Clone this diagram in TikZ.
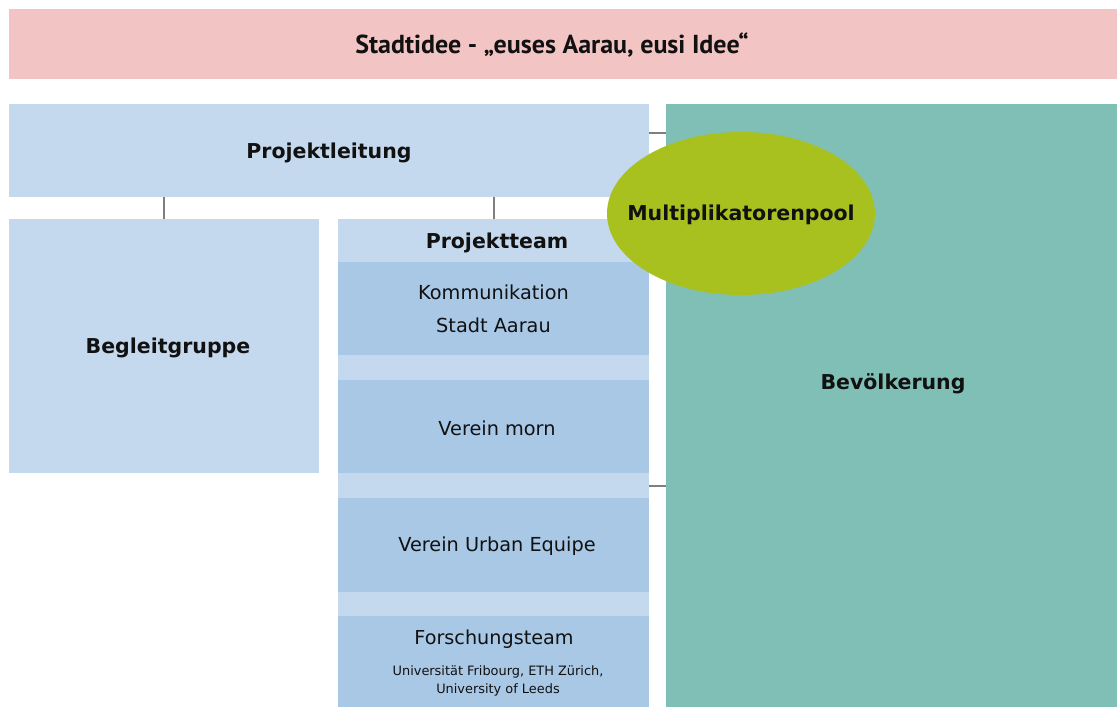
\documentclass[tikz,border=0pt]{standalone}
\usepackage{fontspec}
\setmainfont{DejaVu Sans}
\newfontfamily\titlefont{PT Sans}
\usetikzlibrary{shapes.geometric}
\definecolor{bannerc}{HTML}{F2C4C4}
\definecolor{lightblue}{HTML}{C5D9EE}
\definecolor{midblue}{HTML}{A8C8E6}
\definecolor{tealc}{HTML}{80BFB5}
\definecolor{greenc}{HTML}{A9C11F}
\definecolor{linec}{HTML}{7F7F7F}
\definecolor{textc}{HTML}{111111}
\tikzset{
  box/.style={rectangle, inner sep=0pt, anchor=north west, text=textc},
  lbox/.style={box, fill=lightblue},
  mbox/.style={box, fill=midblue},
  conn/.style={draw=linec, line width=2.2pt},
  bold/.style={font=\fontsize{20.5}{24}\selectfont\bfseries, text=textc},
  reg/.style={font=\fontsize{19.3}{33}\selectfont, text=textc, align=center},
}
\begin{document}
\begin{tikzpicture}[x=1pt,y=-1pt]
\useasboundingbox (0,0) rectangle (1117,707);
\fill[white] (0,0) rectangle (1117,707);
% banner
\node[box, fill=bannerc, minimum width=1108pt, minimum height=70pt] (banner) at (9,9) {};
\node[font=\titlefont\fontsize{26}{30}\selectfont\bfseries, text=textc] (title) at (552,45) {Stadtidee - „euses Aarau, eusi Idee“};
% Projektleitung
\node[lbox, minimum width=640pt, minimum height=93pt] (leit) at (9,104) {};
\node[bold] (leitt) at (329,153) {Projektleitung};
% Begleitgruppe
\node[lbox, minimum width=310pt, minimum height=254pt] (begl) at (9,219) {};
\node[bold] (beglt) at (168,348) {Begleitgruppe};
% Projektteam column
\node[lbox, minimum width=311pt, minimum height=488pt] (team) at (338,219) {};
\node[bold] (teamt) at (497,243) {Projektteam};
\node[mbox, minimum width=311pt, minimum height=93pt] (komm) at (338,262) {};
\node[reg] (kommt) at (493.5,309) {Kommunikation\\Stadt Aarau};
\node[mbox, minimum width=311pt, minimum height=93pt] (morn) at (338,380) {};
\node[reg] (mornt) at (497,428) {Verein morn};
\node[mbox, minimum width=311pt, minimum height=94pt] (urban) at (338,498) {};
\node[reg] (urbant) at (497,546) {Verein Urban Equipe};
\node[mbox, minimum width=311pt, minimum height=91pt] (forsch) at (338,616) {};
\node[font=\fontsize{19.2}{22}\selectfont, text=textc] (forscht) at (494,639) {Forschungsteam};
\node[font=\fontsize{12.9}{18}\selectfont, text=textc, align=center] (forschs) at (498,681) {Universität Fribourg, ETH Zürich,\\University of Leeds};
% Bevölkerung
\node[box, fill=tealc, minimum width=451pt, minimum height=603pt] (bev) at (666,104) {};
\node[bold] (bevt) at (893,384) {Bevölkerung};
% connectors
\draw[conn] (leit.south -| begl.north) -- (begl.north);
\draw[conn] (leit.south -| team.north) -- (team.north);
\draw[conn] (leit.east |- 0,133) -- (bev.west |- 0,133);
\draw[conn] (team.east |- 0,486) -- (bev.west |- 0,486);
% Multiplikatorenpool
\node[ellipse, fill=greenc, minimum width=268pt, minimum height=163pt, inner sep=0pt] (multi) at (741,213.5) {};
\node[bold] (multit) at (741,215) {Multiplikatorenpool};
\end{tikzpicture}
\end{document}
